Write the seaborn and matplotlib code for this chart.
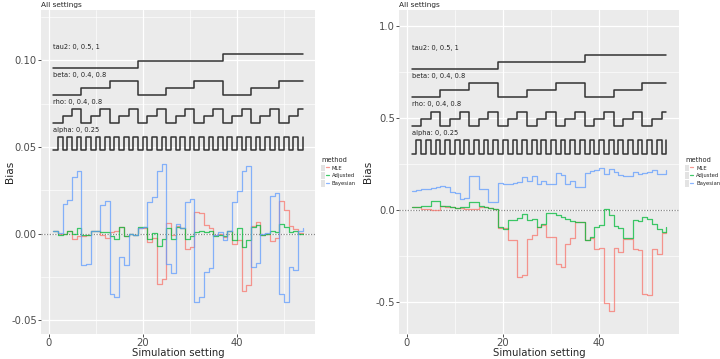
import itertools
import numpy as np
import pandas as pd
import matplotlib
matplotlib.use('Agg')
import matplotlib.pyplot as plt
import seaborn as sns
from matplotlib.lines import Line2D
from matplotlib.patches import Rectangle
from matplotlib.legend_handler import HandlerTuple
from matplotlib.ticker import FormatStrFormatter, MultipleLocator

# design of the simulation (outer to inner loop)
tau2_levels = [0, 0.5, 1]
beta_levels = [0, 0.4, 0.8]
rho_levels = [0, 0.4, 0.8]
alpha_levels = [0, 0.25]
settings = np.arange(1, 55)

methods = ['MLE', 'Adjusted', 'Bayesian']
colors = ['#F8766D', '#00BA38', '#619CFF']

# left panel bias
left_mle = [0.0017, -0.0002, 0.0, 0.0013, -0.003, -0.0012, -0.0012, -0.0008, 0.0017, 0.0012,
            -0.0008, -0.0025, 0.001, 0.0017, 0.004, -0.0017, 0.0, -0.0006, 0.0033, 0.0033,
            -0.005, -0.0025, -0.0294, -0.026, 0.006, -0.0006, 0.0045, 0.003, -0.0088, -0.0079,
            0.0123, 0.0119, 0.005, 0.003, -0.001, 0.0, -0.002, 0.0012, -0.006, -0.0037,
            -0.0329, -0.0296, 0.0046, 0.0065, -0.0006, 0.0, -0.0044, -0.0025, 0.019, 0.0137,
            0.0046, 0.0027, 0.0002, 0.0]
left_adj = [0.0017, -0.0006, 0.0, 0.0012, 0.0, 0.003, -0.0006, -0.0006, 0.0013, 0.0017,
            0.0008, 0.0008, -0.0013, -0.003, 0.0037, -0.0013, 0.0, -0.0006, 0.0037, 0.0037,
            -0.003, 0.0002, -0.007, -0.003, 0.0033, -0.003, 0.004, 0.0033, -0.003, -0.0012,
            0.0008, 0.0017, 0.0008, 0.0017, -0.0012, -0.0006, -0.0012, 0.0013, -0.0037, 0.0033,
            -0.0079, -0.004, 0.0037, 0.0048, -0.0006, 0.0, 0.0017, 0.0008, 0.0056, 0.004,
            0.0008, 0.0017, 0.0, 0.0]
left_bay = [0.0017, 0.0002, 0.0171, 0.0194, 0.0329, 0.0358, -0.0179, -0.0175, 0.0017, 0.0013,
            0.0165, 0.0187, -0.0348, -0.0367, -0.0133, -0.0179, -0.0002, -0.0006, 0.0033, 0.0037,
            0.018, 0.021, 0.0363, 0.040, -0.0175, -0.0229, 0.0052, 0.0033, 0.018, 0.020,
            -0.0396, -0.0367, -0.0223, -0.0198, -0.0006, 0.0008, -0.0037, 0.0012, 0.018, 0.0244,
            0.0363, 0.039, -0.0194, -0.0171, 0.0, 0.0004, 0.0215, 0.0233, -0.0352, -0.0396,
            -0.0194, -0.021, 0.0013, 0.0033]

# right panel bias
right_mle = [0.014, 0.014, 0.004, 0.004, 0.0, 0.0, 0.022, 0.018, 0.014, 0.013,
             0.009, 0.004, 0.004, 0.004, 0.014, 0.018, 0.009, 0.004, -0.095, -0.099,
             -0.162, -0.162, -0.365, -0.354, -0.159, -0.135, -0.094, -0.081, -0.144, -0.148,
             -0.294, -0.309, -0.184, -0.153, -0.063, -0.063, -0.162, -0.153, -0.211, -0.207,
             -0.505, -0.545, -0.207, -0.229, -0.159, -0.159, -0.213, -0.217, -0.455, -0.461,
             -0.211, -0.238, -0.126, -0.117]
right_adj = [0.014, 0.018, 0.023, 0.022, 0.05, 0.05, 0.023, 0.022, 0.014, 0.013,
             0.014, 0.014, 0.045, 0.045, 0.023, 0.018, 0.009, 0.004, -0.090, -0.101,
             -0.054, -0.054, -0.045, -0.022, -0.054, -0.050, -0.094, -0.076, -0.014, -0.014,
             -0.027, -0.036, -0.050, -0.058, -0.063, -0.063, -0.162, -0.148, -0.094, -0.081,
             0.004, -0.027, -0.087, -0.099, -0.153, -0.153, -0.054, -0.060, -0.040, -0.049,
             -0.076, -0.105, -0.117, -0.094]
right_bay = [0.105, 0.108, 0.112, 0.114, 0.119, 0.126, 0.130, 0.123, 0.096, 0.094,
             0.060, 0.063, 0.186, 0.184, 0.115, 0.112, 0.042, 0.042, 0.148, 0.144,
             0.144, 0.148, 0.153, 0.181, 0.159, 0.186, 0.141, 0.159, 0.141, 0.141,
             0.202, 0.189, 0.141, 0.159, 0.126, 0.123, 0.199, 0.213, 0.220, 0.226,
             0.195, 0.222, 0.208, 0.190, 0.186, 0.186, 0.204, 0.195, 0.202, 0.208,
             0.217, 0.193, 0.193, 0.217]

design = pd.DataFrame(list(itertools.product(tau2_levels, beta_levels, rho_levels, alpha_levels)),
                      columns=['tau2', 'beta', 'rho', 'alpha'])
design['setting'] = settings
param_info = [('alpha', alpha_levels), ('rho', rho_levels), ('beta', beta_levels), ('tau2', tau2_levels)]

sns.set_style('darkgrid', {'axes.facecolor': '#EBEBEB', 'grid.color': 'white'})
plt.rcParams['axes.unicode_minus'] = False
plt.rcParams['font.family'] = ['DejaVu Sans']

fig = plt.figure(figsize=(7.2, 3.59), dpi=100)
ax1 = fig.add_axes([41 / 720, 25 / 359, 274 / 720, 324 / 359])
ax2 = fig.add_axes([399 / 720, 25 / 359, 280 / 720, 324 / 359])


def draw_panel(ax, mle, adj, bay, ylim, ystep, fmt, ylab_x):
    df = pd.DataFrame({'setting': np.tile(settings, 3),
                       'Bias': np.concatenate([mle, adj, bay]),
                       'method': np.repeat(methods, len(settings))})
    ax.axhline(0, color='#888888', lw=0.9, ls=(0, (1, 1.2)), zorder=1)
    sns.lineplot(data=df, x='setting', y='Bias', hue='method', palette=colors,
                 hue_order=methods, drawstyle='steps-post', lw=0.9, alpha=0.75,
                 legend=False, ax=ax, zorder=2)

    # nested loop parameter steps above the data
    lo, hi = df['Bias'].min(), df['Bias'].max()
    h = 0.1 * (hi - lo)
    base = hi + h
    for name, levels in param_info:
        vals = design[name].to_numpy()
        yv = base + (vals - min(levels)) / (max(levels) - min(levels)) * h
        sns.lineplot(x=settings, y=yv, drawstyle='steps-post', color='#333333',
                     lw=1.1, ax=ax, zorder=3)
        ax.text(1, base + 1.5 * h, name + ': ' + ', '.join(f'{v:g}' for v in levels),
                fontsize=4.8, color='#222222', va='center', ha='left')
        base += 2 * h

    ax.set_xlim(-1.6, 56.6)
    ax.set_ylim(*ylim)
    ax.xaxis.set_major_locator(MultipleLocator(20))
    ax.xaxis.set_minor_locator(MultipleLocator(10))
    ax.yaxis.set_major_locator(MultipleLocator(ystep))
    ax.yaxis.set_minor_locator(MultipleLocator(ystep / 2))
    ax.yaxis.set_major_formatter(FormatStrFormatter(fmt))
    ax.grid(which='major', color='white', lw=0.9)
    ax.grid(which='minor', color='white', lw=0.45)
    ax.tick_params(which='major', length=2, width=0.6, color='#333333',
                   labelsize=7.2, labelcolor='#4D4D4D', pad=1, left=True, bottom=True)
    ax.tick_params(which='minor', length=0)
    for s in ax.spines.values():
        s.set_visible(False)
    ax.set_xlabel('Simulation setting', fontsize=7.3, labelpad=0)
    ax.set_ylabel('Bias', fontsize=7.6)
    ax.yaxis.set_label_coords(ylab_x, 0.5)
    ax.set_title('All settings', loc='left', fontsize=5.3, pad=2)

    handles = [(Rectangle((0, 0), 1, 1, fc='#E3E3E3', ec='none'),
                Line2D([], [], color=c, lw=0.9, alpha=0.75)) for c in colors]
    leg = ax.legend(handles, methods, handler_map={tuple: HandlerTuple(ndivide=None)},
                    title='method', loc='center left', bbox_to_anchor=(1.01, 0.5),
                    frameon=False, fontsize=3.8, title_fontsize=4.8,
                    handlelength=1.5, handleheight=1.5, handletextpad=0.5, labelspacing=0.25,
                    borderpad=0.2)
    leg._legend_box.align = 'left'


draw_panel(ax1, left_mle, left_adj, left_bay, (-0.058, 0.129), 0.05, '%.2f', -0.095)
draw_panel(ax2, right_mle, right_adj, right_bay, (-0.672, 1.085), 0.5, '%.1f', -0.093)

fig.savefig('out.png', dpi=100, facecolor='white')
